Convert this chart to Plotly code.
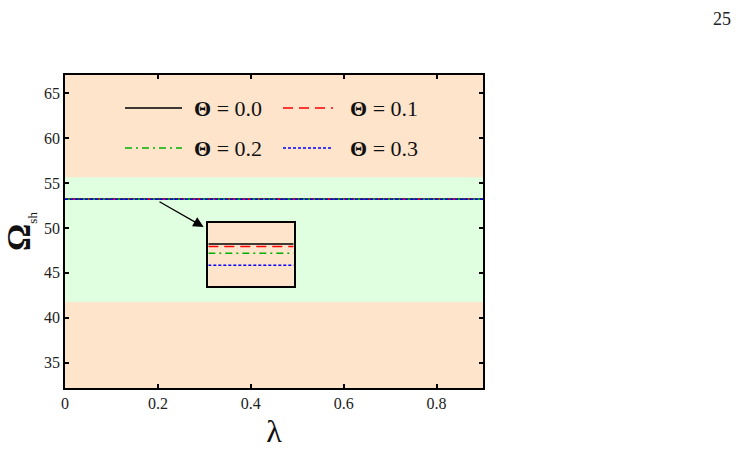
import plotly.graph_objects as go

# ---- data ----
lam = [0.0, 0.1, 0.2, 0.3, 0.4, 0.5, 0.6, 0.7, 0.8, 0.9]
omega_t00 = [53.2000] * 10
omega_t01 = [53.1992] * 10
omega_t02 = [53.1970] * 10
omega_t03 = [53.1930] * 10
theta_labels = ["0.0", "0.1", "0.2", "0.3"]
band_low, band_high = 41.75, 55.62
x_ticks = [0, 0.2, 0.4, 0.6, 0.8]
y_ticks = [35, 40, 45, 50, 55, 60, 65]

series = [omega_t00, omega_t01, omega_t02, omega_t03]
colors = ["black", "red", "#00b000", "blue"]
dashes = ["solid", "10px,6px", "7px,4px,2px,4px", "3px,2px"]

W, H = 740, 455
L, R, T, B = 65, 483, 75, 388
def px(x): return (x - L) / (R - L)
def py(y): return (B - y) / (B - T)

fig = go.Figure()
for s, c, d in zip(series, colors, dashes):
    fig.add_trace(go.Scatter(x=lam, y=s, mode="lines", line=dict(color=c, dash=d, width=1.5),
                             showlegend=False, hoverinfo="skip"))
for s, c, d in zip(series, colors, dashes):
    fig.add_trace(go.Scatter(x=lam, y=s, mode="lines", line=dict(color=c, dash=d, width=1.5),
                             showlegend=False, hoverinfo="skip", xaxis="x2", yaxis="y2"))

serif = "Liberation Serif"
fig.add_shape(type="rect", xref="x", yref="y", x0=0, x1=0.9, y0=band_low, y1=band_high,
              fillcolor="#E0FEE0", line=dict(width=0), layer="below")

# manual legend
rows = [108, 148]
cols = [(125, 182, 192), (283, 333, 348)]
for i, (lab, c, d) in enumerate(zip(theta_labels, colors, dashes)):
    r = rows[i // 2]
    x0, x1, xt = cols[i % 2]
    fig.add_shape(type="line", xref="paper", yref="paper", x0=px(x0), x1=px(x1), y0=py(r), y1=py(r),
                  line=dict(color=c, dash=d, width=1.5))
    fig.add_annotation(xref="paper", yref="paper", x=px(xt), y=py(r), xanchor="left", yanchor="middle",
                       text="<b>Θ</b> = " + lab, showarrow=False,
                       font=dict(family=serif, size=22, color="#111"))

# arrow
fig.add_annotation(x=0.2985, y=50.1, ax=0.197, ay=53.1, xref="x", yref="y", axref="x", ayref="y",
                   showarrow=True, arrowhead=2, arrowsize=1.6, arrowwidth=1.3, arrowcolor="black", text=" ")

# page number
fig.add_annotation(xref="paper", yref="paper", x=px(722), y=py(7), xanchor="center", yanchor="top",
                   text="25", showarrow=False, font=dict(family=serif, size=18, color="#222"))

axis_common = dict(showline=True, linecolor="black", linewidth=1.6, mirror="ticks", ticks="inside",
                   ticklen=4, tickwidth=1.5, tickcolor="black", showgrid=False, zeroline=False,
                   tickfont=dict(family=serif, size=16, color="#222"))

fig.update_layout(
    width=W, height=H,
    font=dict(family=serif),
    margin=dict(l=L, r=W - R, t=T, b=H - B),
    paper_bgcolor="white", plot_bgcolor="#FFE4CC",
    xaxis=dict(range=[0, 0.9], tickvals=x_ticks, ticktext=["0", "0.2", "0.4", "0.6", "0.8"],
               title=dict(text="λ", font=dict(family=serif, size=32, color="#111"), standoff=9),
               **axis_common),
    yaxis=dict(range=[32.2, 67.0], tickvals=y_ticks,
               title=dict(text="<b>Ω</b><sub><span style='font-size:13px'>sh</span></sub>",
                          font=dict(family=serif, size=34, color="#111"), standoff=6),
               **axis_common),
    xaxis2=dict(domain=[px(208.3), px(293.7)], range=[0, 0.9], anchor="y2", showline=True, mirror=True,
                linecolor="black", linewidth=1.5, showticklabels=False, ticks="", showgrid=False, zeroline=False),
    yaxis2=dict(domain=[py(286.3), py(222.7)], range=[53.1861, 53.2070], anchor="x2", showline=True, mirror=True,
                linecolor="black", linewidth=1.5, showticklabels=False, ticks="", showgrid=False, zeroline=False),
)

fig.write_html("out.html")
